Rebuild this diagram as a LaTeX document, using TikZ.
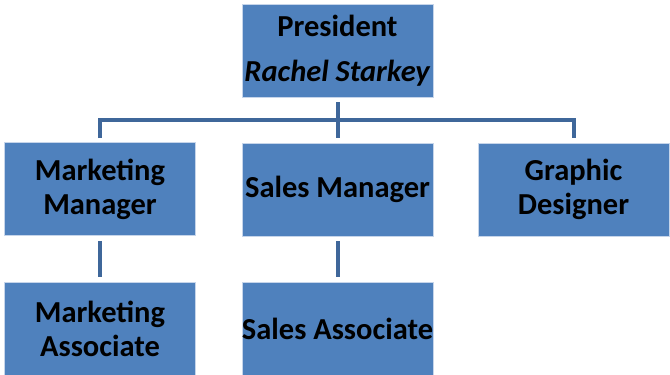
\documentclass[tikz,border=0pt]{standalone}
\usepackage{fontspec}
\setmainfont{Carlito}
\definecolor{boxfill}{HTML}{4F81BD}
\definecolor{boxedge}{HTML}{C6D5EA}
\definecolor{connclr}{HTML}{3F679A}
\begin{document}
\begin{tikzpicture}[x=1pt,y=1pt,
  orgbox/.style={rectangle, fill=boxfill, draw=boxedge, line width=0.8pt,
    minimum width=191pt, minimum height=93pt, inner sep=0pt, align=center,
    font=\fontsize{30.5}{34}\selectfont\bfseries, text=black},
  conn/.style={draw=connclr, line width=4pt}]
\useasboundingbox (0,0) rectangle (670,375);
\node[orgbox] (pres) at (337.5,324.5) {President\\[11pt]\textit{Rachel Starkey}};
\node[orgbox] (mm) at (100,186) {Marketing\\Manager};
\node[orgbox] (sm) at (337.5,185.5) {Sales Manager};
\node[orgbox] (gd) at (573.5,185.5) {Graphic\\Designer};
\node[orgbox] (ma) at (100,46.5) {Marketing\\Associate};
\node[orgbox] (sa) at (337.5,46.5) {Sales Associate};
\draw[conn, shorten <=5pt, shorten >=5pt] (pres.south) -- (sm.north);
\draw[conn] ([yshift=4pt]mm.north) -- ++(0,18) -| ([yshift=5pt]gd.north);
\draw[conn, shorten <=5pt, shorten >=5pt] (mm.south) -- (ma.north);
\draw[conn, shorten <=5pt, shorten >=5pt] (sm.south) -- (sa.north);
\end{tikzpicture}
\end{document}
